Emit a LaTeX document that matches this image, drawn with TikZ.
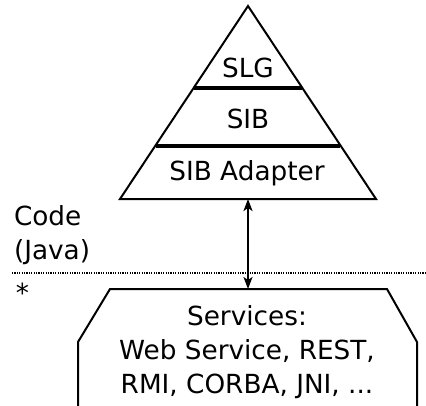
\documentclass[tikz,border=0pt]{standalone}
\usepackage{fontspec}
\setmainfont{DejaVu Sans}
\usetikzlibrary{arrows.meta}

\begin{document}
\begin{tikzpicture}[x=1pt,y=-1pt,line width=2pt,
   every node/.style={inner sep=0pt,font=\fontsize{26.3}{34}\selectfont},
   layer/.style={anchor=base},
   sep/.style={line width=4pt},
   tip/.tip={Stealth[length=12pt,width=9pt,inset=3pt]}]
   \useasboundingbox (0,0) rectangle (426,405);

   % pyramid with its three layers
   \coordinate (top) at (248,6);
   \coordinate (bl) at (120,199);
   \coordinate (br) at (376,199);
   \draw[line join=miter] (top) -- (bl) -- (br) -- cycle;
   \draw[sep] (194,88) -- (302,88);
   \draw[sep] (156,146) -- (340,146);
   \node[layer] (slg) at (248,77) {SLG};
   \node[layer] (sib) at (248,128) {SIB};
   \node[layer] (adapter) at (247,180) {SIB Adapter};

   % border between code and the rest
   \draw[line width=1.2pt,dash pattern=on 1.2pt off 1.2pt] (12,273) -- (426,273);
   \node[anchor=north west,align=left] (code) at (13,205) {Code\\(Java)};
   \node[anchor=north west] (star) at (15,282) {*};

   % services box, open at the bottom
   \coordinate (svctop) at (248,289);
   \draw (78,406) -- (78,342) -- (110,289) -- (387,289) -- (417,342) -- (417,406);
   \node[anchor=north,align=center] (services) at (247,305)
      {Services:\\Web Service, REST,\\RMI, CORBA, JNI, ...};

   \coordinate (base) at (248,199);
   \draw[tip-tip] (base) -- (svctop);
\end{tikzpicture}
\end{document}
